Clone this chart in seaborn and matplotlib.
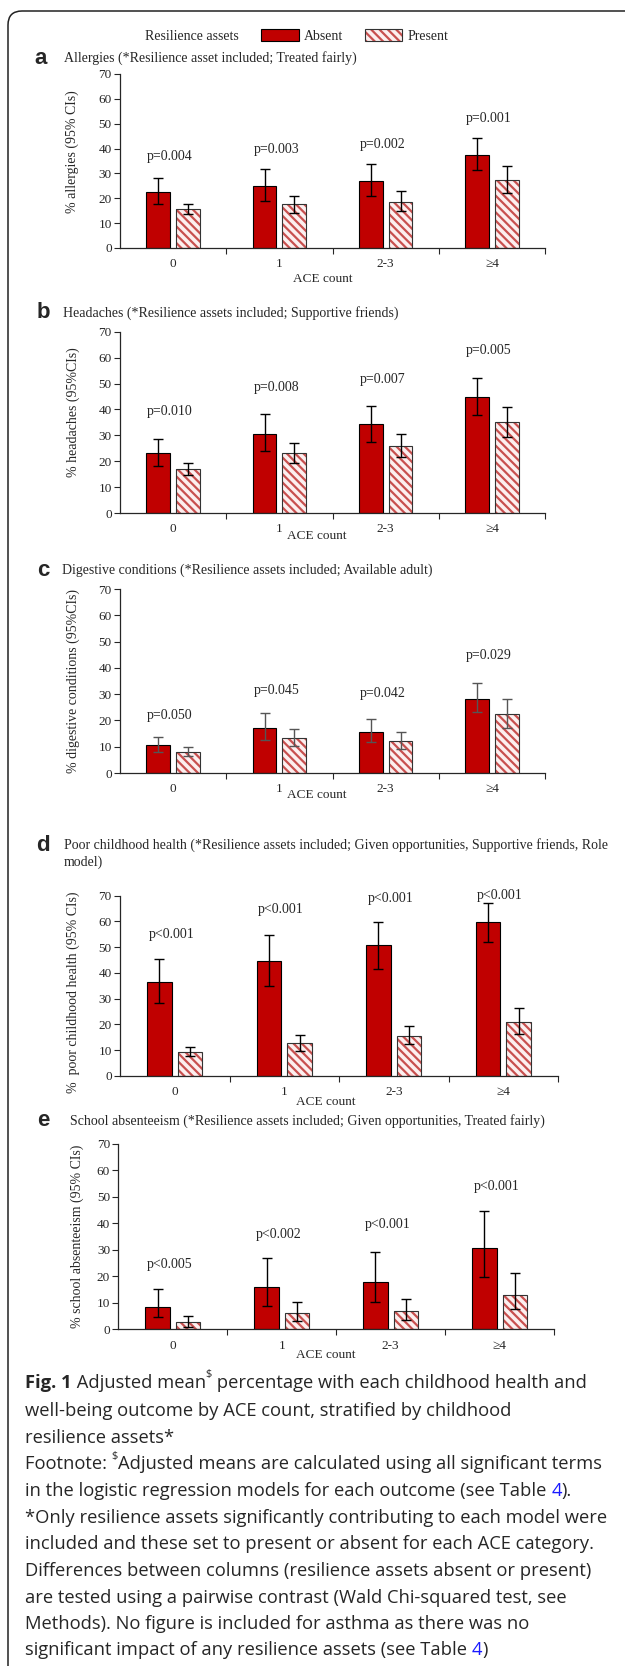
import numpy as np
import pandas as pd
import seaborn as sns
import matplotlib.pyplot as plt
from matplotlib.patches import Patch, Rectangle, FancyBboxPatch
from matplotlib.transforms import IdentityTransform

# ---- data ----
ace = ['0', '1', '2-3', '≥4']
groups = ['Absent', 'Present']

allergy_abs = [22.4, 24.9, 26.8, 37.6]
allergy_abs_lo = [17.5, 18.8, 20.8, 31.3]
allergy_abs_hi = [28.1, 31.7, 33.7, 44.4]
allergy_pre = [15.5, 17.5, 18.7, 27.5]
allergy_pre_lo = [13.5, 14.0, 14.8, 22.0]
allergy_pre_hi = [17.5, 20.9, 22.8, 32.9]
allergy_p = ['p=0.004', 'p=0.003', 'p=0.002', 'p=0.001']

headache_abs = [23.0, 30.6, 34.2, 44.9]
headache_abs_lo = [18.1, 24.1, 27.5, 37.8]
headache_abs_hi = [28.4, 38.1, 41.4, 52.0]
headache_pre = [16.9, 23.2, 26.0, 35.3]
headache_pre_lo = [14.7, 19.2, 21.8, 29.5]
headache_pre_hi = [19.2, 27.2, 30.6, 41.1]
headache_p = ['p=0.010', 'p=0.008', 'p=0.007', 'p=0.005']

digest_abs = [10.7, 17.2, 15.7, 28.2]
digest_abs_lo = [8.1, 12.6, 11.7, 23.1]
digest_abs_hi = [13.8, 22.7, 20.7, 34.1]
digest_pre = [8.1, 13.2, 12.2, 22.3]
digest_pre_lo = [6.5, 10.3, 9.1, 17.0]
digest_pre_hi = [9.8, 16.6, 15.5, 28.0]
digest_p = ['p=0.050', 'p=0.045', 'p=0.042', 'p=0.029']

poor_abs = [36.4, 44.7, 50.7, 59.8]
poor_abs_lo = [28.2, 35.0, 41.4, 52.0]
poor_abs_hi = [45.4, 54.7, 59.7, 67.0]
poor_pre = [9.2, 12.7, 15.6, 21.1]
poor_pre_lo = [7.6, 9.9, 12.3, 16.3]
poor_pre_hi = [11.2, 16.0, 19.6, 26.5]
poor_p = ['p<0.001', 'p<0.001', 'p<0.001', 'p<0.001']

absent_abs = [8.6, 16.1, 18.0, 30.8]
absent_abs_lo = [4.5, 8.8, 10.3, 19.6]
absent_abs_hi = [15.1, 27.1, 29.2, 44.7]
absent_pre = [2.9, 6.0, 6.9, 13.1]
absent_pre_lo = [1.0, 3.3, 3.5, 7.6]
absent_pre_hi = [5.0, 10.4, 11.6, 21.4]
absent_p = ['p<0.005', 'p<0.002', 'p<0.001', 'p<0.001']

# ---- style ----
W, H = 625, 1666
RED = '#c00000'
PINK = '#fcefef'
HATCH = '#c8504f'
SERIF = ['Liberation Serif', 'DejaVu Serif']

sns.set_style('ticks')
plt.rcParams['font.family'] = SERIF
plt.rcParams['hatch.linewidth'] = 1.6
plt.rcParams['axes.linewidth'] = 0.9

fig = plt.figure(figsize=(W / 100, H / 100), dpi=100)


def panel(box, vals, pvals, p_y, ylabel, ylab_pos, xlab_pos, errcolor='black'):
    l, t, r, b = box
    ax = fig.add_axes([l / W, 1 - b / H, (r - l) / W, (b - t) / H])
    m_abs, lo_abs, hi_abs, m_pre, lo_pre, hi_pre = vals
    df = pd.DataFrame({'ace': ace * 2,
                       'assets': ['Absent'] * 4 + ['Present'] * 4,
                       'pct': m_abs + m_pre})
    sns.barplot(data=df, x='ace', y='pct', hue='assets', order=ace, hue_order=groups,
                palette={'Absent': RED, 'Present': PINK}, saturation=1,
                width=0.56, gap=0.2, errorbar=None, legend=False,
                edgecolor='black', linewidth=0.8, ax=ax)
    for bar in ax.containers[1]:
        bar.set_hatch(r'\\\\')
        bar.set_edgecolor(HATCH)
        bar.set_linewidth(0)
        ax.add_patch(Rectangle((bar.get_x(), bar.get_y()), bar.get_width(), bar.get_height(),
                               fill=False, edgecolor='#333333', lw=0.8, zorder=bar.get_zorder() + 0.1))
    for cont, m, lo, hi in [(ax.containers[0], m_abs, lo_abs, hi_abs),
                            (ax.containers[1], m_pre, lo_pre, hi_pre)]:
        xs = [p.get_x() + p.get_width() / 2 for p in cont]
        ax.errorbar(xs, m, yerr=[np.subtract(m, lo), np.subtract(hi, m)], fmt='none',
                    ecolor=errcolor, elinewidth=1, capsize=3.5, capthick=1, zorder=5)
    for i, (txt, y) in enumerate(zip(pvals, p_y)):
        ax.text(i - 0.03, y, txt, ha='center', va='center', fontsize=10, clip_on=False)

    ax.set_xlim(-0.5, 3.5)
    ax.set_ylim(0, 70)
    ax.set_yticks(range(0, 80, 10))
    sns.despine(ax=ax)
    ax.tick_params(axis='y', direction='out', length=4, width=0.8, labelsize=9.5, pad=2)
    ax.tick_params(axis='x', which='major', length=0, pad=7.5, labelsize=9.5)
    ax.set_xticks([0.5, 1.5, 2.5, 3.5], minor=True)
    ax.tick_params(axis='x', which='minor', length=4, width=0.8, direction='out')

    ax.set_ylabel(ylabel, fontsize=10)
    ax.yaxis.set_label_coords((ylab_pos[0] - l) / (r - l), (b - ylab_pos[1]) / (b - t))
    ax.set_xlabel('ACE count', fontsize=9.5)
    ax.xaxis.label.set_verticalalignment('center')
    ax.xaxis.set_label_coords((xlab_pos[0] - l) / (r - l), (b - xlab_pos[1]) / (b - t))
    return ax


def heading(letter, lx, title_lines, tx, y, size=10):
    fig.text(lx / W, 1 - y / H, letter, fontsize=16, fontweight='bold',
             family=['Liberation Sans', 'DejaVu Sans'], ha='center', va='center')
    for k, line in enumerate(title_lines):
        fig.text(tx / W, 1 - (y + k * 17) / H, line, fontsize=size, ha='left', va='center')


# ---- panels ----
heading('a', 41, ['Allergies (*Resilience asset included; Treated fairly)'], 64, 58)
panel((120, 74, 545, 248),
      (allergy_abs, allergy_abs_lo, allergy_abs_hi, allergy_pre, allergy_pre_lo, allergy_pre_hi),
      allergy_p, [36.7, 39.5, 41.7, 52.0], '% allergies (95% CIs)', (79, 152), (323, 279))

heading('b', 43, ['Headaches (*Resilience assets included; Supportive friends)'], 63, 313)
panel((120, 331.7, 545, 513),
      (headache_abs, headache_abs_lo, headache_abs_hi, headache_pre, headache_pre_lo, headache_pre_hi),
      headache_p, [39.1, 48.4, 51.6, 62.9], '% headaches (95%CIs)', (80, 412), (317, 536))

heading('c', 43, ['Digestive conditions (*Resilience assets included; Available adult)'], 62, 570)
panel((120, 589, 545, 773),
      (digest_abs, digest_abs_lo, digest_abs_hi, digest_pre, digest_pre_lo, digest_pre_hi),
      digest_p, [21.8, 31.2, 30.3, 44.6], '% digestive conditions (95%CIs)', (80, 681), (317, 795),
      errcolor='#555555')

heading('d', 43, ['Poor childhood health (*Resilience assets included; Given opportunities, Supportive friends, Role',
                  'model)'], 64, 845)
panel((120, 895.7, 558, 1076),
      (poor_abs, poor_abs_lo, poor_abs_hi, poor_pre, poor_pre_lo, poor_pre_hi),
      poor_p, [55.0, 64.8, 69.0, 70.0], '%  poor childhood health (95% CIs)', (80, 992), (326, 1102))

heading('e', 43, ['School absenteeism (*Resilience assets included; Given opportunities, Treated fairly)'], 70, 1121)
panel((118.4, 1144, 554, 1329.3),
      (absent_abs, absent_abs_lo, absent_abs_hi, absent_pre, absent_pre_lo, absent_pre_hi),
      absent_p, [24.3, 36.0, 39.7, 54.1], '% school absenteeism (95% CIs)', (84, 1236), (326, 1355))

# ---- legend ----
fig.text(145 / W, 1 - 36 / H, 'Resilience assets', fontsize=10, ha='left', va='center')
h_abs = Patch(facecolor=RED, edgecolor='black', lw=0.8)
h_pre = (Patch(facecolor=PINK, edgecolor=HATCH, hatch=r'\\\\', lw=0),
         Patch(fill=False, edgecolor='#333333', lw=0.8))
fig.legend([h_abs, h_pre], groups, ncols=2, loc='center left',
           bbox_to_anchor=(261 / W, 1 - 36 / H), frameon=False, fontsize=10,
           handlelength=2.7, handleheight=0.9, handletextpad=0.35, columnspacing=1.6,
           borderpad=0, borderaxespad=0)

# ---- caption ----
SANS = ['Open Sans', 'DejaVu Sans']
renderer = fig.canvas.get_renderer()


def advance(s, **kw):
    t1 = fig.text(0, 0, s + '|', **kw)
    t2 = fig.text(0, 0, '|', **kw)
    w = t1.get_window_extent(renderer).width - t2.get_window_extent(renderer).width
    t1.remove()
    t2.remove()
    return w


CAP = 13.2
caption = [
    [('Fig. 1', 'bold'), (' Adjusted mean', 'n'), ('$', 'sup'), (' percentage with each childhood health and', 'n')],
    [('well-being outcome by ACE count, stratified by childhood', 'n')],
    [('resilience assets*', 'n')],
    [('Footnote: ', 'n'), ('$', 'sup'), ('Adjusted means are calculated using all significant terms', 'n')],
    [('in the logistic regression models for each outcome (see Table ', 'n'), ('4', 'blue'), (').', 'n')],
    [('*Only resilience assets significantly contributing to each model were', 'n')],
    [('included and these set to present or absent for each ACE category.', 'n')],
    [('Differences between columns (resilience assets absent or present)', 'n')],
    [('are tested using a pairwise contrast (Wald Chi-squared test, see', 'n')],
    [('Methods). No figure is included for asthma as there was no', 'n')],
    [('significant impact of any resilience assets (see Table ', 'n'), ('4', 'blue'), (')', 'n')],
]
line_y = [1383, 1411, 1438, 1464, 1491, 1518, 1544, 1571, 1598, 1624, 1650]
for parts, y in zip(caption, line_y):
    x = 25
    for txt, kind in parts:
        kw = dict(fontsize=CAP, family=SANS, parse_math=False)
        dy = 0
        if kind == 'bold':
            kw['fontweight'] = 'bold'
        elif kind == 'sup':
            kw['fontsize'] = CAP * 0.6
            dy = -8
        elif kind == 'blue':
            kw['color'] = '#1a1aff'
        fig.text(x / W, 1 - (y + dy) / H, txt, ha='left', va='center', **kw)
        x += advance(txt, **kw)

# ---- outer rounded frame ----
fig.add_artist(FancyBboxPatch((8, -60), 700, H - 11 + 60, boxstyle='round,pad=0,rounding_size=14',
                              transform=IdentityTransform(), fill=False, lw=1.1, ec='#222222'))

plt.savefig('out.png', dpi=100)
